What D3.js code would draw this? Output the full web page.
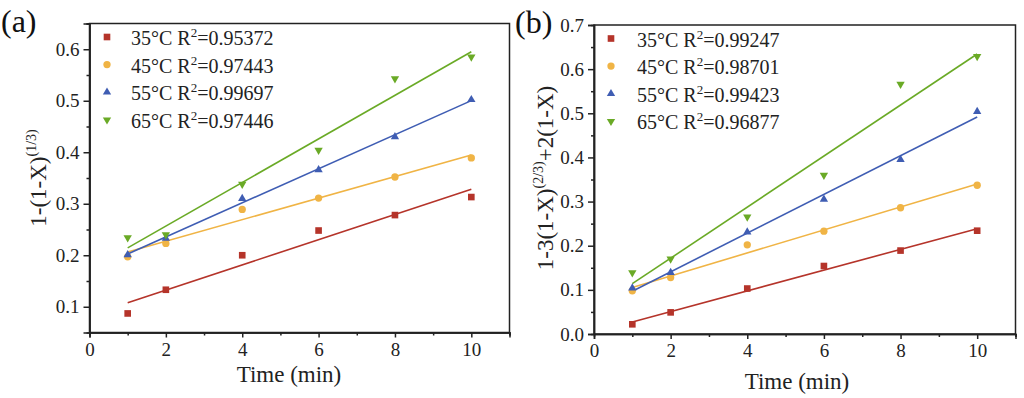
<!DOCTYPE html>
<html><head><meta charset="utf-8">
<script src="https://cdn.jsdelivr.net/npm/d3@7"></script>
<style>
body{margin:0;background:#fff;}
svg{display:block;font-family:"Liberation Serif","Times New Roman",serif;}
</style></head>
<body><svg id="c" width="1024" height="398"></svg>
<script>
// ---- data ----
const times = [1, 2, 4, 6, 8, 10];
const temps = ["35°C", "45°C", "55°C", "65°C"];
const colors = ["#B5342A", "#F0B445", "#3F5DB3", "#6AAA26"];
const shapes = ["square", "circle", "triangle", "triangleDown"];
const xTicks = [0, 2, 4, 6, 8, 10];

// panel (a): 1-(1-X)^(1/3)
const a35 = [0.087, 0.133, 0.200, 0.248, 0.278, 0.313];
const a45 = [0.197, 0.223, 0.289, 0.311, 0.352, 0.389];
const a55 = [0.201, 0.233, 0.310, 0.366, 0.430, 0.502];
const a65 = [0.234, 0.240, 0.338, 0.404, 0.543, 0.585];
const aR2 = ["0.95372", "0.97443", "0.99697", "0.97446"];
const aYTicks = [0.1, 0.2, 0.3, 0.4, 0.5, 0.6];

// panel (b): 1-3(1-X)^(2/3)+2(1-X)
const b35 = [0.022, 0.049, 0.103, 0.154, 0.189, 0.234];
const b45 = [0.098, 0.128, 0.202, 0.233, 0.286, 0.337];
const b55 = [0.104, 0.139, 0.231, 0.305, 0.395, 0.504];
const b65 = [0.139, 0.170, 0.265, 0.360, 0.566, 0.629];
const bR2 = ["0.99247", "0.98701", "0.99423", "0.96877"];
const bYTicks = [0.0, 0.1, 0.2, 0.3, 0.4, 0.5, 0.6, 0.7];

const svg = d3.select("#c");

function fit(xs, ys) {
  const mx = d3.mean(xs), my = d3.mean(ys);
  let sxy = 0, sxx = 0;
  xs.forEach((x, i) => { sxy += (x - mx) * (ys[i] - my); sxx += (x - mx) * (x - mx); });
  const k = sxy / sxx;
  return { k, b: my - k * mx };
}

function symbolPath(shape) {
  if (shape === "square") return d3.symbol(d3.symbolSquare, 44)();
  if (shape === "circle") return d3.symbol(d3.symbolCircle, 42)();
  return d3.symbol(d3.symbolTriangle, 30)();
}

function panel(o) {
  const g = svg.append("g");
  const x = d3.scaleLinear().domain([0, 11]).range([o.left, o.right]);
  const y = d3.scaleLinear().domain(o.yDomain).range([o.bottom, o.top]);
  const font = "Liberation Serif";

  // frame
  g.append("rect").attr("x", o.left).attr("y", o.top)
    .attr("width", o.right - o.left).attr("height", o.bottom - o.top)
    .attr("fill", "none").attr("stroke", "#222").attr("stroke-width", 1.5);

  // x axis
  const xa = g.append("g").attr("transform", `translate(0,${o.bottom})`)
    .call(d3.axisBottom(x).tickValues(o.xTicks).tickFormat(d3.format("d")).tickSize(5).tickPadding(5));
  const xm = g.append("g").attr("transform", `translate(0,${o.bottom})`)
    .call(d3.axisBottom(x).tickValues([1, 3, 5, 7, 9, 11]).tickFormat("").tickSize(3));
  // y axis
  const ya = g.append("g").attr("transform", `translate(${o.left},0)`)
    .call(d3.axisLeft(y).tickValues(o.yTicks).tickFormat(d3.format(".1f")).tickSize(6).tickPadding(4));
  const ym = g.append("g").attr("transform", `translate(${o.left},0)`)
    .call(d3.axisLeft(y).tickValues(o.yMinor).tickFormat("").tickSize(3));
  [xa, xm, ya, ym].forEach(a => {
    a.select(".domain").attr("stroke", "#222").attr("stroke-width", 1.5);
    a.selectAll(".tick line").attr("stroke", "#222").attr("stroke-width", 1.5);
    a.selectAll("text").attr("font-family", font).attr("font-size", 19).attr("fill", "#222");
  });

  // fits and points
  o.series.forEach((ys, i) => {
    const f = fit(times, ys);
    g.append("line")
      .attr("x1", x(1)).attr("y1", y(f.k * 1 + f.b))
      .attr("x2", x(10)).attr("y2", y(f.k * 10 + f.b))
      .attr("stroke", colors[i]).attr("stroke-width", 1.6);
  });
  o.series.forEach((ys, i) => {
    g.selectAll(null).data(times).enter().append("path")
      .attr("d", symbolPath(shapes[i]))
      .attr("transform", (t, j) => `translate(${x(t)},${y(ys[j])})${shapes[i] === "triangleDown" ? " rotate(180)" : ""}`)
      .attr("fill", colors[i]);
  });

  // legend
  o.r2.forEach((r, i) => {
    const by = o.legY + i * o.legDy;
    g.append("path").attr("d", symbolPath(shapes[i]))
      .attr("transform", `translate(${o.legX},${by - 8})${shapes[i] === "triangleDown" ? " rotate(180)" : ""}`)
      .attr("fill", colors[i]);
    const t = g.append("text").attr("x", o.legTX).attr("y", by)
      .attr("font-size", 20).attr("fill", "#222");
    t.append("tspan").text(temps[i] + " R");
    t.append("tspan").attr("font-size", 13).attr("dy", -8).text("2");
    t.append("tspan").attr("dy", 8).text("=" + r);
  });

  // axis titles
  g.append("text").attr("x", o.xtX).attr("y", o.xtY).attr("text-anchor", "middle")
    .attr("font-size", 23).attr("fill", "#222").text("Time (min)");
  const yt = g.append("text").attr("transform", `translate(${o.ytX},${o.ytY}) rotate(-90)`)
    .attr("text-anchor", "middle").attr("font-size", 23).attr("fill", "#222");
  o.yTitle.forEach(p => {
    const s = yt.append("tspan").text(p.t);
    if (p.sup) s.attr("font-size", 14).attr("dy", -10);
    if (p.down) s.attr("dy", 10);
  });

  // panel label
  g.append("text").attr("x", o.labX).attr("y", o.labY).attr("font-size", 32)
    .attr("fill", "#111").text(o.label);
}

panel({
  left: 89.5, right: 509.5, top: 23.5, bottom: 332.5,
  yDomain: [0.05, 0.65], yTicks: aYTicks, xTicks: xTicks,
  yMinor: [0.15, 0.25, 0.35, 0.45, 0.55, 0.65],
  series: [a35, a45, a55, a65], r2: aR2,
  legX: 107, legTX: 131, legY: 45, legDy: 27.6,
  xtX: 289, xtY: 382, ytX: 46, ytY: 178,
  yTitle: [{ t: "1-(1-X)" }, { t: "(1/3)", sup: true }],
  label: "(a)", labX: 1, labY: 32
});

panel({
  left: 594, right: 1015.5, top: 25, bottom: 334,
  yDomain: [0, 0.7], yTicks: bYTicks, xTicks: xTicks,
  yMinor: [0.05, 0.15, 0.25, 0.35, 0.45, 0.55, 0.65],
  series: [b35, b45, b55, b65], r2: bR2,
  legX: 611, legTX: 637, legY: 46.5, legDy: 27.6,
  xtX: 797, xtY: 389, ytX: 553, ytY: 178,
  yTitle: [{ t: "1-3(1-X)" }, { t: "(2/3)", sup: true }, { t: "+2(1-X)", down: true }],
  label: "(b)", labX: 515, labY: 33
});
</script>
</body></html>
